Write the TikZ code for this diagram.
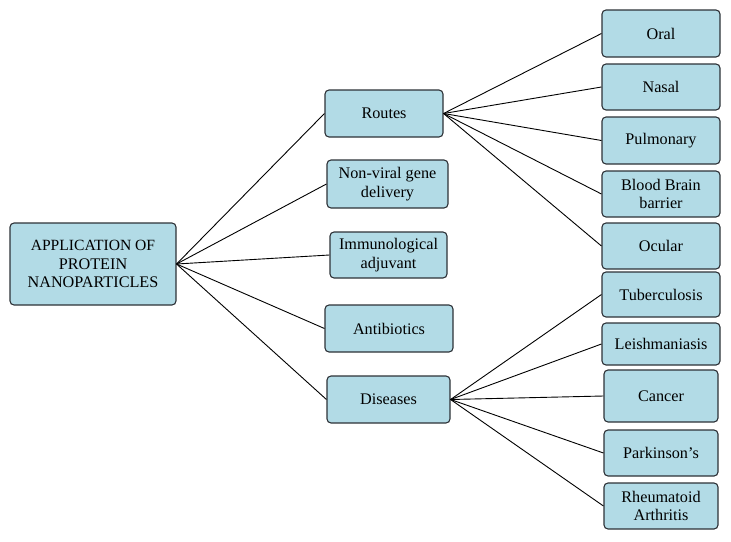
\documentclass[tikz,border=0pt]{standalone}
\usepackage{fontspec}
\setmainfont{Liberation Serif}
\definecolor{boxfill}{RGB}{178,219,230}
\definecolor{boxline}{RGB}{45,50,55}
\begin{document}
\begin{tikzpicture}[x=1pt,y=-1pt,
  box/.style={draw=boxline, line width=1.1pt, fill=boxfill, rounded corners=4pt,
    inner sep=0pt, align=center, font=\fontsize{16.2}{18.5}\selectfont},
  link/.style={draw=black, line width=0.9pt}]
\useasboundingbox (0,0) rectangle (731,541);
% root
\node[box, minimum width=166pt, minimum height=82pt] (main) at (93,264) {\fontsize{15.6}{18.5}\selectfont APPLICATION OF\\PROTEIN\\NANOPARTICLES};
% middle column
\node[box, minimum width=118pt, minimum height=47pt] (routes) at (384,113.5) {Routes};
\node[box, minimum width=121pt, minimum height=48pt] (nonviral) at (387.5,184) {Non-viral gene\\delivery};
\node[box, minimum width=117pt, minimum height=46pt] (immuno) at (388.5,255) {Immunological\\adjuvant};
\node[box, minimum width=128pt, minimum height=47pt] (antibio) at (389,328.5) {Antibiotics};
\node[box, minimum width=123pt, minimum height=47pt] (diseases) at (388.5,399.5) {Diseases};
% routes children
\node[box, minimum width=118pt, minimum height=47pt] (oral) at (661,33.5) {Oral};
\node[box, minimum width=118pt, minimum height=46pt] (nasal) at (661,87) {Nasal};
\node[box, minimum width=118pt, minimum height=47pt] (pulm) at (661,140.5) {Pulmonary};
\node[box, minimum width=118pt, minimum height=46pt] (bbb) at (661,194) {Blood Brain\\barrier};
\node[box, minimum width=118pt, minimum height=46pt] (ocular) at (661,246) {Ocular};
% diseases children
\node[box, minimum width=118pt, minimum height=45pt] (tb) at (661,294.5) {Tuberculosis};
\node[box, minimum width=118pt, minimum height=42pt] (leish) at (661,344) {Leishmaniasis};
\node[box, minimum width=114pt, minimum height=52pt] (cancer) at (661,396) {Cancer};
\node[box, minimum width=114pt, minimum height=46pt] (park) at (661,453) {Parkinson’s};
\node[box, minimum width=114pt, minimum height=46pt] (rheum) at (661,506) {Rheumatoid\\Arthritis};
% connectors
\foreach \t in {routes,nonviral,immuno,antibio,diseases}
  \draw[link] (main.east) -- (\t.west);
\foreach \t in {oral,nasal,pulm,bbb,ocular}
  \draw[link] (routes.east) -- (\t.west);
\foreach \t in {tb,leish,cancer,park,rheum}
  \draw[link] (diseases.east) -- (\t.west);
\end{tikzpicture}
\end{document}
